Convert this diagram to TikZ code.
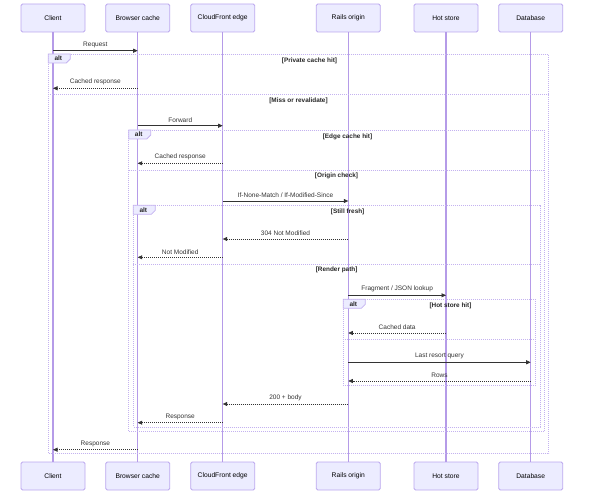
\documentclass[tikz,border=0pt]{standalone}
\usepackage{fontspec}
\setmainfont{Liberation Sans}
\usetikzlibrary{arrows.meta}
\definecolor{actorfill}{HTML}{ECECFF}
\definecolor{actorline}{HTML}{BBA6EE}
\definecolor{lifec}{HTML}{B59BE8}
\definecolor{framec}{HTML}{C4B2F0}
\definecolor{msgc}{HTML}{333333}
\tikzset{
  actor/.style={draw=actorline, fill=actorfill, line width=0.8pt, rounded corners=1.5pt,
    minimum width=64pt, minimum height=28pt, inner sep=0pt,
    font=\fontsize{6.7}{7}\selectfont, text=black},
  life/.style={draw=lifec, line width=1.3pt},
  msg/.style={draw=msgc, line width=0.6pt, -{Triangle[length=4.5pt,width=4pt]}},
  reply/.style={msg, dash pattern=on 1pt off 1pt},
  mlabel/.style={above=2.2pt, inner sep=0.5pt, font=\fontsize{6.5}{7}\selectfont, text=msgc},
  frame/.style={draw=framec, line width=0.8pt, dash pattern=on 1pt off 1pt},
  tabbox/.style={draw=framec, fill=actorfill, line width=0.8pt},
  tabtext/.style={font=\fontsize{6.5}{7}\selectfont\bfseries, text=black!85, inner sep=0pt},
  condtext/.style={font=\fontsize{6.4}{7}\selectfont\bfseries, text=black!85, inner sep=0pt}
}
\newcommand\seqmsg[5]{\draw[#5] (#1 |- 0,#3) -- node[mlabel]{#4} (#2 |- 0,#3);}
\newcommand\altframe[6]{%
  % #1 name, #2 x0, #3 y0, #4 x1, #5 y1, #6 condition
  \draw[frame] (#2,#3) rectangle (#4,#5);
  \draw[tabbox] (#2,#3) -- ++(22,0) -- ++(0,5) -- ++(-4,4) -- (#2,#3+9) -- cycle;
  \node[tabtext] (#1tab) at (#2+10,#3+4.6) {alt};
  \node[condtext] (#1cond) at ({(#2+22+#4)/2},#3+6.8) {#6};
}
\newcommand\altsep[5]{%
  % #1 name, #2 x0, #3 x1, #4 y, #5 label
  \draw[frame] (#2,#4) -- (#3,#4);
  \node[condtext] (#1sep) at ({(#2+#3)/2},#4+6.3) {#5};
}
\begin{document}
\begin{tikzpicture}[x=1pt,y=-1pt]
\useasboundingbox (0,0) rectangle (590,500);
% actors and lifelines
\foreach \n/\x/\t in {C/53/Client, B/137.7/Browser cache, F/222.7/CloudFront edge,
                      R/348.3/Rails origin, H/446/Hot store, D/530.7/Database}{
  \node[actor] (t\n) at (\x,18) {\t};
  \node[actor] (b\n) at (\x,476) {\t};
}
\foreach \n in {C,B,F,R,H,D}{\draw[life] (t\n) -- (b\n);}
% frames
\altframe{fa}{48.3}{54}{548.7}{453.7}{[Private cache hit]}
\altsep{fa}{48.3}{548.7}{94.3}{[Miss or revalidate]}
\altframe{fb}{128.7}{130}{544.3}{431.7}{[Edge cache hit]}
\altsep{fb}{128.7}{544.3}{170}{[Origin check]}
\altframe{fc}{133.3}{205.3}{540}{427}{[Still fresh]}
\altsep{fc}{133.3}{540}{264}{[Render path]}
\altframe{fd}{343.3}{299.3}{535.7}{385.3}{[Hot store hit]}
\draw[frame] (343.3,339.7) -- (535.7,339.7);
% messages
\seqmsg{tC}{tB}{50.7}{Request}{msg}
\seqmsg{tB}{tC}{88.3}{Cached response}{reply}
\seqmsg{tB}{tF}{125.7}{Forward}{msg}
\seqmsg{tF}{tB}{163.3}{Cached response}{reply}
\seqmsg{tF}{tR}{201}{If-None-Match / If-Modified-Since}{msg}
\seqmsg{tR}{tF}{239}{304 Not Modified}{reply}
\seqmsg{tF}{tB}{257.3}{Not Modified}{reply}
\seqmsg{tR}{tH}{295.3}{Fragment / JSON lookup}{msg}
\seqmsg{tH}{tR}{333}{Cached data}{reply}
\seqmsg{tR}{tD}{362.3}{Last resort query}{msg}
\seqmsg{tD}{tR}{381}{Rows}{reply}
\seqmsg{tR}{tF}{404}{200 + body}{reply}
\seqmsg{tF}{tB}{422.7}{Response}{reply}
\seqmsg{tB}{tC}{449.7}{Response}{reply}
\end{tikzpicture}
\end{document}
